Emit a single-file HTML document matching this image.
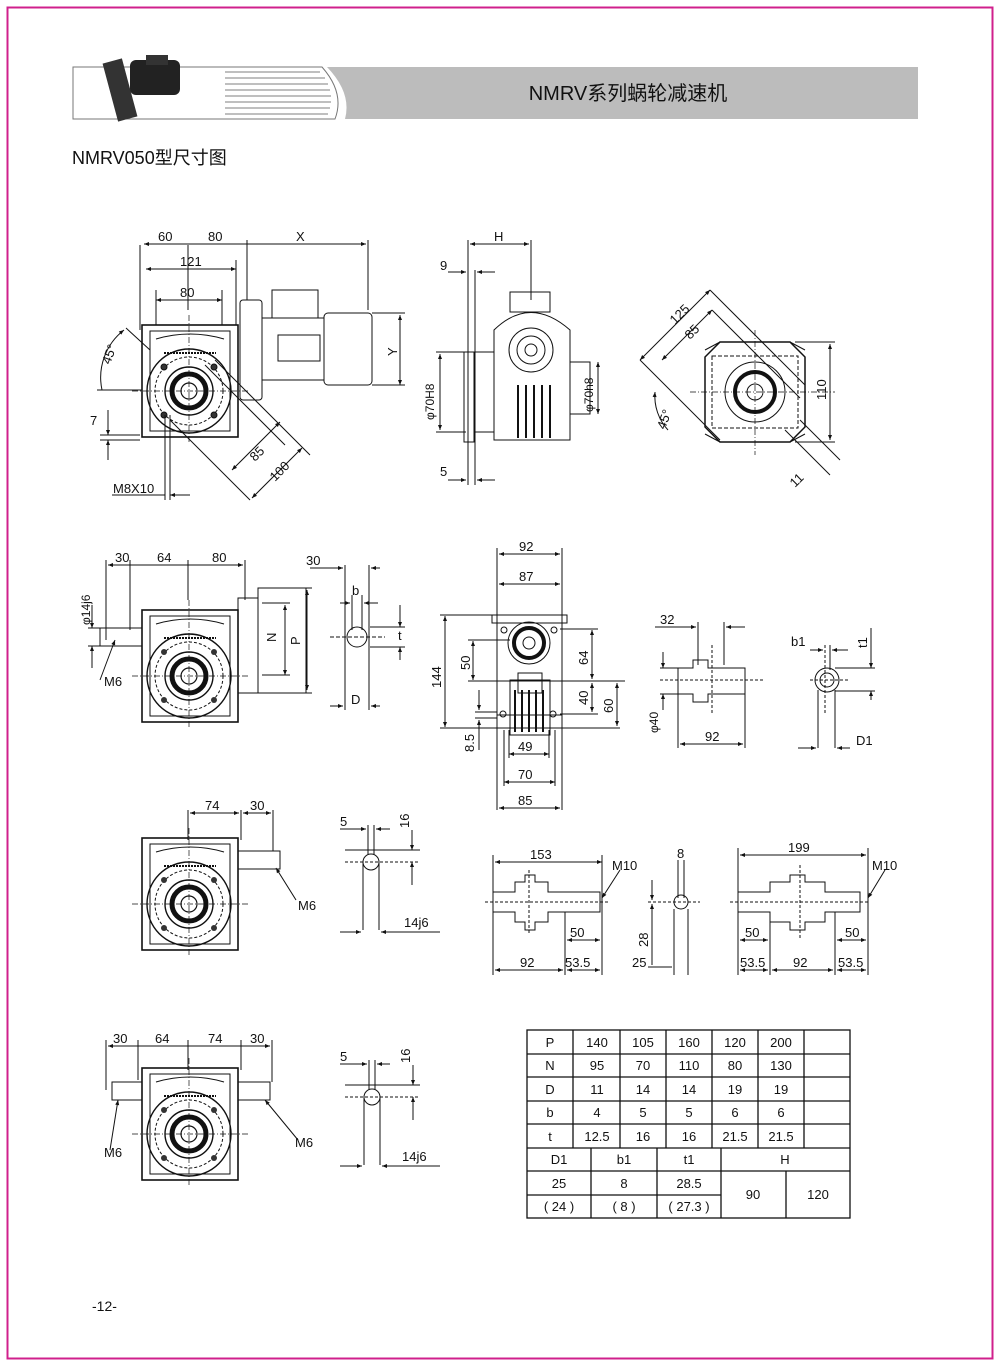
<!DOCTYPE html>
<html><head><meta charset="utf-8"><style>
html,body{margin:0;padding:0;background:#fff;}
svg{display:block;}
text{font-family:"Liberation Sans","Noto Sans CJK SC",sans-serif;fill:#111;}
</style></head><body>
<svg width="1000" height="1366" viewBox="0 0 1000 1366" xmlns="http://www.w3.org/2000/svg">
<defs>
<marker id="a" viewBox="0 0 10 10" refX="10" refY="5" markerWidth="7" markerHeight="5" orient="auto-start-reverse"><path d="M0,1 L10,5 L0,9z" fill="#111"/></marker>
<g id="gb">
 <rect x="0" y="0" width="96" height="112" fill="none" stroke="#111" stroke-width="1.6"/>
 <rect x="8" y="6" width="80" height="100" fill="none" stroke="#111" stroke-width="1"/>
 <path d="M14,14 Q48,4 82,14" fill="none" stroke="#111"/>
 <line x1="22" y1="28" x2="74" y2="28" stroke="#111" stroke-width="2" stroke-dasharray="2 1"/>
 <circle cx="47" cy="66" r="42" fill="none" stroke="#111" stroke-width="1.4"/>
 <circle cx="47" cy="66" r="34" fill="none" stroke="#111" stroke-dasharray="3 2"/>
 <circle cx="47" cy="66" r="24" fill="none" stroke="#111" stroke-width="1.4"/>
 <circle cx="47" cy="66" r="17" fill="none" stroke="#111" stroke-width="5"/>
 <circle cx="47" cy="66" r="8" fill="none" stroke="#111" stroke-width="1.2"/>
 <circle cx="22" cy="42" r="3" fill="#333"/><circle cx="72" cy="42" r="3" fill="#333"/>
 <circle cx="22" cy="90" r="3" fill="#333"/><circle cx="72" cy="90" r="3" fill="#333"/>
 <line x1="47" y1="-10" x2="47" y2="118" stroke="#111" stroke-width=".7" stroke-dasharray="6 2 1 2"/>
 <line x1="-10" y1="66" x2="106" y2="66" stroke="#111" stroke-width=".7" stroke-dasharray="6 2 1 2"/>
</g>
</defs>
<!-- border -->
<rect x="7.5" y="7.5" width="985" height="1351" fill="none" stroke="#d0208c" stroke-width="2"/>
<!-- header -->
<rect x="73" y="67" width="845" height="52" fill="#fff"/>
<path d="M73,67 H322 Q345,93 335,119 H73 Z" fill="#fff" stroke="#777" stroke-width="1"/>
<g stroke="#aaa" stroke-width="1.5">
<line x1="225" y1="72" x2="320" y2="72"/><line x1="225" y1="78" x2="325" y2="78"/><line x1="225" y1="84" x2="328" y2="84"/><line x1="225" y1="90" x2="330" y2="90"/><line x1="225" y1="96" x2="331" y2="96"/><line x1="225" y1="102" x2="331" y2="102"/><line x1="225" y1="108" x2="330" y2="108"/><line x1="225" y1="114" x2="328" y2="114"/>
</g>
<path d="M327,67 H918 V119 H345 Q352,93 327,67 Z" fill="#bcbcbc"/>
<rect x="110" y="60" width="20" height="60" fill="#333" transform="rotate(-15 120 90)"/>
<rect x="130" y="60" width="50" height="35" rx="6" fill="#222"/>
<rect x="146" y="55" width="22" height="10" fill="#333"/>
<text x="628" y="100" font-size="20" text-anchor="middle">NMRV系列蜗轮减速机</text>
<text x="72" y="164" font-size="18">NMRV050型尺寸图</text>

<g stroke="#111" fill="none" stroke-width="1" font-size="13">
<!-- View 1 -->
<use href="#gb" x="142" y="325"/>
<rect x="240" y="300" width="22" height="100" rx="3"/>
<rect x="262" y="318" width="62" height="62"/>
<rect x="272" y="290" width="46" height="28"/>
<rect x="278" y="335" width="42" height="26"/>
<rect x="324" y="313" width="48" height="72" rx="4"/>
<line x1="140" y1="245" x2="140" y2="330"/><line x1="188" y1="245" x2="188" y2="310"/><line x1="247" y1="240" x2="247" y2="300"/><line x1="368" y1="240" x2="368" y2="310"/>
<line x1="144" y1="244" x2="366" y2="244" marker-start="url(#a)" marker-end="url(#a)"/>
<line x1="146" y1="269" x2="236" y2="269" marker-start="url(#a)" marker-end="url(#a)"/>
<line x1="236" y1="260" x2="236" y2="325"/>
<line x1="156" y1="300" x2="222" y2="300" marker-start="url(#a)" marker-end="url(#a)"/>
<line x1="156" y1="290" x2="156" y2="325"/><line x1="222" y1="290" x2="222" y2="325"/>
<line x1="400" y1="315" x2="400" y2="385" marker-start="url(#a)" marker-end="url(#a)"/>
<line x1="372" y1="313" x2="405" y2="313"/><line x1="372" y1="385" x2="405" y2="385"/>
<path d="M124,330 A60,60 0 0 0 102,390" marker-start="url(#a)"/>
<line x1="97" y1="390" x2="142" y2="390"/>
<line x1="126" y1="328" x2="150" y2="350"/>
<line x1="100" y1="435" x2="140" y2="435"/><line x1="100" y1="440" x2="140" y2="440"/>
<line x1="108" y1="410" x2="108" y2="435" marker-end="url(#a)"/><line x1="108" y1="460" x2="108" y2="440" marker-end="url(#a)"/>
<line x1="205" y1="365" x2="285" y2="445"/><line x1="215" y1="360" x2="310" y2="455"/>
<line x1="232" y1="470" x2="280" y2="422" marker-start="url(#a)" marker-end="url(#a)"/>
<line x1="252" y1="498" x2="302" y2="448" marker-start="url(#a)" marker-end="url(#a)"/>
<line x1="170" y1="420" x2="250" y2="500"/>
<line x1="165" y1="415" x2="165" y2="500"/><line x1="170" y1="415" x2="170" y2="500"/>
<line x1="112" y1="495" x2="165" y2="495"/><line x1="170" y1="495" x2="190" y2="495" marker-start="url(#a)"/>
</g>
<g font-size="13">
<text x="158" y="241">60</text><text x="208" y="241">80</text><text x="296" y="241">X</text>
<text x="180" y="266">121</text><text x="180" y="297">80</text>
<text x="397" y="356" transform="rotate(-90 397 356)" x-d="">Y</text>
<text x="110" y="365" transform="rotate(-70 110 365)">45°</text>
<text x="90" y="425">7</text>
<text x="255" y="462" transform="rotate(-45 255 462)">85</text>
<text x="275" y="482" transform="rotate(-45 275 482)">100</text>
<text x="113" y="493">M8X10</text>
</g>

<!-- View 2 side -->
<g stroke="#111" fill="none" stroke-width="1" font-size="13">
<rect x="464" y="352" width="10" height="90"/>
<rect x="474" y="352" width="20" height="80"/>
<path d="M494,330 Q530,295 570,330 V440 H494 Z"/>
<rect x="510" y="292" width="40" height="20"/>
<circle cx="531" cy="350" r="22"/><circle cx="531" cy="350" r="14"/><circle cx="531" cy="350" r="6"/>
<rect x="570" y="362" width="20" height="52"/>
<g stroke-width="2"><line x1="518" y1="385" x2="518" y2="438"/><line x1="526" y1="385" x2="526" y2="438"/><line x1="534" y1="385" x2="534" y2="438"/><line x1="542" y1="385" x2="542" y2="438"/><line x1="550" y1="385" x2="550" y2="438"/></g>
<line x1="531" y1="240" x2="531" y2="300"/><line x1="468" y1="240" x2="468" y2="485"/><line x1="475" y1="270" x2="475" y2="485"/>
<line x1="470" y1="244" x2="529" y2="244" marker-start="url(#a)" marker-end="url(#a)"/>
<line x1="448" y1="272" x2="466" y2="272" marker-end="url(#a)"/><line x1="495" y1="272" x2="477" y2="272" marker-end="url(#a)"/>
<line x1="448" y1="480" x2="466" y2="480" marker-end="url(#a)"/><line x1="495" y1="480" x2="477" y2="480" marker-end="url(#a)"/>
<line x1="440" y1="354" x2="440" y2="430" marker-start="url(#a)" marker-end="url(#a)"/>
<line x1="436" y1="352" x2="466" y2="352"/><line x1="436" y1="432" x2="466" y2="432"/>
<line x1="598" y1="362" x2="598" y2="414" marker-start="url(#a)" marker-end="url(#a)"/>
</g>
<g font-size="12">
<text x="494" y="241" font-size="13">H</text><text x="440" y="270" font-size="13">9</text><text x="440" y="476" font-size="13">5</text>
<text x="434" y="420" transform="rotate(-90 434 420)">φ70H8</text>
<text x="593" y="412" transform="rotate(-90 593 412)">φ70h8</text>
</g>

<!-- View 3 flange -->
<g stroke="#111" fill="none" stroke-width="1" font-size="13">
<path d="M720,342 H790 L805,357 V427 L790,442 H720 L705,427 V357 Z" stroke-width="1.5"/>
<path d="M705,350 L720,342 M790,342 L805,350 M705,434 L720,442 M805,434 L790,442"/>
<rect x="712" y="356" width="86" height="72" stroke-dasharray="4 2"/>
<circle cx="755" cy="392" r="30"/><circle cx="755" cy="392" r="20" stroke-width="4"/><circle cx="755" cy="392" r="8"/>
<line x1="690" y1="392" x2="835" y2="392" stroke-dasharray="6 2 1 2" stroke-width=".7"/>
<line x1="755" y1="330" x2="755" y2="455" stroke-dasharray="6 2 1 2" stroke-width=".7"/>
<line x1="640" y1="360" x2="710" y2="290" marker-start="url(#a)" marker-end="url(#a)"/>
<line x1="662" y1="360" x2="712" y2="310" marker-start="url(#a)" marker-end="url(#a)"/>
<line x1="640" y1="360" x2="720" y2="440"/><line x1="710" y1="290" x2="805" y2="385"/>
<line x1="712" y1="310" x2="800" y2="398"/>
<line x1="830" y1="344" x2="830" y2="440" marker-start="url(#a)" marker-end="url(#a)"/>
<line x1="795" y1="342" x2="835" y2="342"/><line x1="795" y1="442" x2="835" y2="442"/>
<line x1="785" y1="430" x2="830" y2="475"/><line x1="800" y1="420" x2="840" y2="460"/>
<path d="M655,392 A50,50 0 0 0 668,430" marker-start="url(#a)"/>
</g>
<g font-size="13">
<text x="675" y="325" transform="rotate(-45 675 325)">125</text>
<text x="690" y="340" transform="rotate(-45 690 340)">85</text>
<text x="826" y="400" transform="rotate(-90 826 400)">110</text>
<text x="665" y="430" transform="rotate(-70 665 430)">45°</text>
<text x="795" y="488" transform="rotate(-45 795 488)">11</text>
</g>

<!-- Row2 left -->
<use href="#gb" x="142" y="610"/>
<g stroke="#111" fill="none" stroke-width="1" font-size="13">
<rect x="100" y="628" width="42" height="18"/>
<rect x="238" y="598" width="20" height="95"/>
<rect x="258" y="588" width="48" height="105"/>
<line x1="106" y1="560" x2="106" y2="640"/><line x1="130" y1="560" x2="130" y2="630"/><line x1="188" y1="560" x2="188" y2="600"/><line x1="245" y1="560" x2="245" y2="600"/>
<line x1="108" y1="565" x2="243" y2="565" marker-start="url(#a)" marker-end="url(#a)"/>
<line x1="88" y1="628" x2="100" y2="628"/><line x1="88" y1="646" x2="100" y2="646"/>
<line x1="92" y1="605" x2="92" y2="628" marker-end="url(#a)"/><line x1="92" y1="668" x2="92" y2="646" marker-end="url(#a)"/>
<line x1="100" y1="680" x2="115" y2="640" marker-end="url(#a)"/>
<line x1="285" y1="605" x2="285" y2="675" marker-start="url(#a)" marker-end="url(#a)"/>
<line x1="307" y1="590" x2="307" y2="690" marker-start="url(#a)" marker-end="url(#a)"/>
<line x1="262" y1="603" x2="290" y2="603"/><line x1="262" y1="675" x2="290" y2="675"/>
<line x1="262" y1="588" x2="312" y2="588"/><line x1="262" y1="693" x2="312" y2="693"/>
<!-- shaft key -->
<circle cx="357" cy="637" r="10"/>
<line x1="345" y1="565" x2="345" y2="710"/><line x1="369" y1="565" x2="369" y2="710"/>
<line x1="352" y1="595" x2="352" y2="630"/><line x1="362" y1="595" x2="362" y2="630"/>
<line x1="310" y1="568" x2="343" y2="568" marker-end="url(#a)"/><line x1="380" y1="568" x2="371" y2="568" marker-end="url(#a)"/>
<line x1="340" y1="603" x2="350" y2="603" marker-end="url(#a)"/><line x1="378" y1="603" x2="364" y2="603" marker-end="url(#a)"/>
<line x1="330" y1="706" x2="343" y2="706" marker-end="url(#a)"/><line x1="380" y1="706" x2="371" y2="706" marker-end="url(#a)"/>
<line x1="400" y1="605" x2="400" y2="627" marker-end="url(#a)"/><line x1="400" y1="660" x2="400" y2="647" marker-end="url(#a)"/>
<line x1="370" y1="627" x2="405" y2="627"/><line x1="370" y1="647" x2="405" y2="647"/>
<line x1="330" y1="637" x2="385" y2="637" stroke-dasharray="4 2"/>
</g>
<g font-size="13">
<text x="115" y="562">30</text><text x="157" y="562">64</text><text x="212" y="562">80</text>
<text x="90" y="625" transform="rotate(-90 90 625)" font-size="12">φ14j6</text>
<text x="104" y="686">M6</text>
<text x="276" y="642" transform="rotate(-90 276 642)">N</text>
<text x="300" y="645" transform="rotate(-90 300 645)">P</text>
<text x="306" y="565">30</text><text x="352" y="595">b</text><text x="398" y="640">t</text><text x="351" y="704">D</text>
</g>

<!-- Row2 middle front -->
<g stroke="#111" fill="none" stroke-width="1" font-size="13">
<rect x="497" y="615" width="65" height="100"/>
<rect x="492" y="615" width="75" height="8"/>
<circle cx="529" cy="643" r="21"/><circle cx="529" cy="643" r="15" stroke-width="4"/><circle cx="529" cy="643" r="6"/>
<circle cx="504" cy="630" r="3"/><circle cx="554" cy="630" r="3"/>
<rect x="518" y="673" width="24" height="20"/>
<rect x="510" y="680" width="40" height="55"/>
<g stroke-width="2"><line x1="515" y1="690" x2="515" y2="732"/><line x1="522" y1="690" x2="522" y2="732"/><line x1="529" y1="690" x2="529" y2="732"/><line x1="536" y1="690" x2="536" y2="732"/><line x1="543" y1="690" x2="543" y2="732"/></g>
<circle cx="503" cy="714" r="3"/><circle cx="553" cy="714" r="3"/>
<line x1="497" y1="548" x2="497" y2="810"/><line x1="562" y1="548" x2="562" y2="810"/>
<line x1="499" y1="554" x2="560" y2="554" marker-start="url(#a)" marker-end="url(#a)"/>
<line x1="499" y1="584" x2="560" y2="584" marker-start="url(#a)" marker-end="url(#a)"/>
<line x1="445" y1="616" x2="445" y2="727" marker-start="url(#a)" marker-end="url(#a)"/>
<line x1="440" y1="615" x2="497" y2="615"/><line x1="440" y1="728" x2="620" y2="728"/>
<line x1="473" y1="641" x2="473" y2="680" marker-start="url(#a)" marker-end="url(#a)"/>
<line x1="468" y1="640" x2="510" y2="640"/><line x1="468" y1="681" x2="625" y2="681"/>
<line x1="592" y1="630" x2="592" y2="679" marker-start="url(#a)" marker-end="url(#a)"/>
<line x1="592" y1="683" x2="592" y2="712" marker-start="url(#a)" marker-end="url(#a)"/>
<line x1="617" y1="683" x2="617" y2="726" marker-start="url(#a)" marker-end="url(#a)"/>
<line x1="560" y1="629" x2="598" y2="629"/><line x1="560" y1="714" x2="598" y2="714"/>
<line x1="479" y1="690" x2="479" y2="710" marker-end="url(#a)"/><line x1="479" y1="750" x2="479" y2="720" marker-end="url(#a)"/>
<line x1="475" y1="712" x2="497" y2="712"/><line x1="475" y1="718" x2="497" y2="718"/>
<line x1="509" y1="754" x2="549" y2="754" marker-start="url(#a)" marker-end="url(#a)"/>
<line x1="504" y1="782" x2="555" y2="782" marker-start="url(#a)" marker-end="url(#a)"/>
<line x1="499" y1="808" x2="560" y2="808" marker-start="url(#a)" marker-end="url(#a)"/>
<line x1="509" y1="730" x2="509" y2="758"/><line x1="549" y1="730" x2="549" y2="758"/>
<line x1="504" y1="730" x2="504" y2="786"/><line x1="555" y1="730" x2="555" y2="786"/>
<!-- hollow shaft -->
<path d="M678,668 H693 V660 H708 V668 H745 V694 H708 V702 H693 V694 H678 Z"/>
<line x1="660" y1="680" x2="765" y2="680" stroke-dasharray="3 2"/>
<line x1="712" y1="645" x2="712" y2="715" stroke-dasharray="3 2"/>
<line x1="698" y1="622" x2="698" y2="665"/><line x1="724" y1="622" x2="724" y2="665"/>
<line x1="655" y1="627" x2="696" y2="627" marker-end="url(#a)"/><line x1="745" y1="627" x2="726" y2="627" marker-end="url(#a)"/>
<line x1="663" y1="652" x2="663" y2="668" marker-end="url(#a)"/><line x1="663" y1="710" x2="663" y2="694" marker-end="url(#a)"/>
<line x1="660" y1="668" x2="678" y2="668"/><line x1="660" y1="694" x2="678" y2="694"/>
<line x1="680" y1="744" x2="743" y2="744" marker-start="url(#a)" marker-end="url(#a)"/>
<line x1="678" y1="694" x2="678" y2="748"/><line x1="745" y1="694" x2="745" y2="748"/>
<circle cx="827" cy="680" r="12"/><circle cx="827" cy="680" r="7"/>
<line x1="810" y1="680" x2="850" y2="680" stroke-dasharray="3 2"/>
<line x1="818" y1="690" x2="818" y2="748"/><line x1="835" y1="690" x2="835" y2="748"/>
<line x1="825" y1="645" x2="825" y2="715" stroke-dasharray="3 2"/><line x1="830" y1="645" x2="830" y2="670"/>
<line x1="798" y1="748" x2="816" y2="748" marker-end="url(#a)"/><line x1="850" y1="748" x2="837" y2="748" marker-end="url(#a)"/>
<line x1="810" y1="650" x2="823" y2="650" marker-end="url(#a)"/><line x1="848" y1="650" x2="832" y2="650" marker-end="url(#a)"/>
<line x1="871" y1="628" x2="871" y2="668" marker-end="url(#a)"/><line x1="871" y1="700" x2="871" y2="691" marker-end="url(#a)"/>
<line x1="835" y1="668" x2="875" y2="668"/><line x1="835" y1="691" x2="875" y2="691"/>
</g>
<g font-size="13">
<text x="519" y="551">92</text><text x="519" y="581">87</text>
<text x="441" y="688" transform="rotate(-90 441 688)">144</text>
<text x="470" y="670" transform="rotate(-90 470 670)">50</text>
<text x="588" y="665" transform="rotate(-90 588 665)">64</text>
<text x="588" y="705" transform="rotate(-90 588 705)">40</text>
<text x="613" y="713" transform="rotate(-90 613 713)">60</text>
<text x="474" y="752" transform="rotate(-90 474 752)">8.5</text>
<text x="518" y="751">49</text><text x="518" y="779">70</text><text x="518" y="805">85</text>
<text x="660" y="624">32</text>
<text x="658" y="733" transform="rotate(-90 658 733)" font-size="12">φ40</text>
<text x="705" y="741">92</text>
<text x="791" y="646">b1</text>
<text x="867" y="648" transform="rotate(-90 867 648)">t1</text>
<text x="856" y="745">D1</text>
</g>

<!-- Row3 -->
<use href="#gb" x="142" y="838"/>
<g stroke="#111" fill="none" stroke-width="1" font-size="13">
<rect x="238" y="851" width="42" height="18"/>
<line x1="188" y1="810" x2="188" y2="840"/><line x1="241" y1="810" x2="241" y2="840"/><line x1="273" y1="810" x2="273" y2="851"/>
<line x1="190" y1="813" x2="239" y2="813" marker-start="url(#a)" marker-end="url(#a)"/>
<line x1="243" y1="813" x2="271" y2="813" marker-start="url(#a)" marker-end="url(#a)"/>
<line x1="296" y1="900" x2="276" y2="868" marker-end="url(#a)"/>
<circle cx="371" cy="862" r="8"/>
<line x1="363" y1="862" x2="363" y2="930"/><line x1="379" y1="862" x2="379" y2="930"/>
<line x1="368" y1="825" x2="368" y2="855"/><line x1="374" y1="825" x2="374" y2="855"/>
<line x1="340" y1="829" x2="366" y2="829" marker-end="url(#a)"/><line x1="390" y1="829" x2="376" y2="829" marker-end="url(#a)"/>
<line x1="345" y1="850" x2="420" y2="850"/><line x1="345" y1="862" x2="420" y2="862" stroke-dasharray="3 2"/>
<line x1="412" y1="830" x2="412" y2="850" marker-end="url(#a)"/><line x1="412" y1="885" x2="412" y2="862" marker-end="url(#a)"/>
<line x1="340" y1="932" x2="361" y2="932" marker-end="url(#a)"/><line x1="440" y1="932" x2="381" y2="932" marker-end="url(#a)"/>
<!-- 153 -->
<path d="M493,892 H515 V882 H525 V875 H535 V882 H548 V892 H600 V912 H548 V922 H535 V930 H525 V922 H515 V912 H493 Z"/>
<line x1="485" y1="902" x2="610" y2="902" stroke-dasharray="3 2"/>
<line x1="529" y1="870" x2="529" y2="935" stroke-dasharray="3 2"/>
<line x1="495" y1="862" x2="602" y2="862" marker-start="url(#a)" marker-end="url(#a)"/>
<line x1="493" y1="855" x2="493" y2="975"/><line x1="602" y1="855" x2="602" y2="975"/>
<line x1="565" y1="912" x2="565" y2="975"/>
<line x1="567" y1="940" x2="600" y2="940" marker-start="url(#a)" marker-end="url(#a)"/>
<line x1="495" y1="970" x2="563" y2="970" marker-start="url(#a)" marker-end="url(#a)"/>
<line x1="567" y1="970" x2="600" y2="970" marker-start="url(#a)" marker-end="url(#a)"/>
<line x1="620" y1="870" x2="602" y2="898" marker-end="url(#a)"/>
<!-- small shaft 8 -->
<circle cx="681" cy="902" r="7"/>
<line x1="678" y1="860" x2="678" y2="898"/><line x1="684" y1="860" x2="684" y2="898"/>
<line x1="674" y1="909" x2="674" y2="975"/><line x1="688" y1="909" x2="688" y2="975"/>
<line x1="648" y1="902" x2="700" y2="902" stroke-dasharray="3 2"/>
<line x1="652" y1="880" x2="652" y2="900" marker-end="url(#a)"/><line x1="652" y1="965" x2="652" y2="904" marker-end="url(#a)"/>
<line x1="648" y1="967" x2="672" y2="967"/>
<!-- 199 -->
<path d="M738,892 H770 V882 H790 V875 H805 V882 H825 V892 H860 V912 H825 V922 H805 V930 H790 V922 H770 V912 H738 Z"/>
<line x1="730" y1="902" x2="870" y2="902" stroke-dasharray="3 2"/>
<line x1="800" y1="865" x2="800" y2="940" stroke-dasharray="3 2"/>
<line x1="740" y1="855" x2="866" y2="855" marker-start="url(#a)" marker-end="url(#a)"/>
<line x1="738" y1="848" x2="738" y2="975"/><line x1="868" y1="848" x2="868" y2="975"/>
<line x1="770" y1="912" x2="770" y2="975"/><line x1="835" y1="912" x2="835" y2="975"/>
<line x1="740" y1="940" x2="768" y2="940" marker-start="url(#a)" marker-end="url(#a)"/>
<line x1="837" y1="940" x2="866" y2="940" marker-start="url(#a)" marker-end="url(#a)"/>
<line x1="740" y1="970" x2="768" y2="970" marker-start="url(#a)" marker-end="url(#a)"/>
<line x1="772" y1="970" x2="833" y2="970" marker-start="url(#a)" marker-end="url(#a)"/>
<line x1="837" y1="970" x2="866" y2="970" marker-start="url(#a)" marker-end="url(#a)"/>
<line x1="885" y1="870" x2="868" y2="898" marker-end="url(#a)"/>
</g>
<g font-size="13">
<text x="205" y="810">74</text><text x="250" y="810">30</text>
<text x="298" y="910">M6</text>
<text x="340" y="826">5</text>
<text x="409" y="828" transform="rotate(-90 409 828)">16</text>
<text x="404" y="927">14j6</text>
<text x="530" y="859">153</text><text x="612" y="870">M10</text>
<text x="570" y="937">50</text><text x="520" y="967">92</text><text x="565" y="967">53.5</text>
<text x="677" y="858">8</text>
<text x="648" y="947" transform="rotate(-90 648 947)">28</text>
<text x="632" y="967">25</text>
<text x="788" y="852">199</text><text x="872" y="870">M10</text>
<text x="745" y="937">50</text><text x="845" y="937">50</text>
<text x="740" y="967">53.5</text><text x="793" y="967">92</text><text x="838" y="967">53.5</text>
</g>

<!-- Row4 -->
<use href="#gb" x="142" y="1068"/>
<g stroke="#111" fill="none" stroke-width="1" font-size="13">
<rect x="112" y="1082" width="30" height="18"/><rect x="238" y="1082" width="32" height="18"/>
<line x1="106" y1="1040" x2="106" y2="1090"/><line x1="138" y1="1040" x2="138" y2="1080"/><line x1="188" y1="1040" x2="188" y2="1070"/><line x1="241" y1="1040" x2="241" y2="1070"/><line x1="272" y1="1040" x2="272" y2="1082"/>
<line x1="108" y1="1046" x2="270" y2="1046" marker-start="url(#a)" marker-end="url(#a)"/>
<line x1="110" y1="1150" x2="118" y2="1100" marker-end="url(#a)"/>
<line x1="298" y1="1140" x2="265" y2="1100" marker-end="url(#a)"/>
<circle cx="372" cy="1097" r="8"/>
<line x1="364" y1="1097" x2="364" y2="1165"/><line x1="380" y1="1097" x2="380" y2="1165"/>
<line x1="369" y1="1060" x2="369" y2="1090"/><line x1="375" y1="1060" x2="375" y2="1090"/>
<line x1="340" y1="1064" x2="367" y2="1064" marker-end="url(#a)"/><line x1="390" y1="1064" x2="377" y2="1064" marker-end="url(#a)"/>
<line x1="345" y1="1085" x2="420" y2="1085"/><line x1="345" y1="1097" x2="420" y2="1097" stroke-dasharray="3 2"/>
<line x1="413" y1="1065" x2="413" y2="1085" marker-end="url(#a)"/><line x1="413" y1="1120" x2="413" y2="1097" marker-end="url(#a)"/>
<line x1="340" y1="1166" x2="362" y2="1166" marker-end="url(#a)"/><line x1="440" y1="1166" x2="382" y2="1166" marker-end="url(#a)"/>
</g>
<g font-size="13">
<text x="113" y="1043">30</text><text x="155" y="1043">64</text><text x="208" y="1043">74</text><text x="250" y="1043">30</text>
<text x="104" y="1157">M6</text><text x="295" y="1147">M6</text>
<text x="340" y="1061">5</text>
<text x="410" y="1063" transform="rotate(-90 410 1063)">16</text>
<text x="402" y="1161">14j6</text>
</g>

<!-- Table -->
<g stroke="#111" stroke-width="1.3" fill="none">
<rect x="527" y="1030" width="323" height="188"/>
<line x1="527" y1="1054" x2="850" y2="1054"/><line x1="527" y1="1077" x2="850" y2="1077"/><line x1="527" y1="1101" x2="850" y2="1101"/><line x1="527" y1="1124" x2="850" y2="1124"/><line x1="527" y1="1148" x2="850" y2="1148"/><line x1="527" y1="1171" x2="721" y2="1171"/><line x1="527" y1="1195" x2="721" y2="1195"/><line x1="721" y1="1171" x2="850" y2="1171"/>
<line x1="573" y1="1030" x2="573" y2="1148"/><line x1="620" y1="1030" x2="620" y2="1148"/><line x1="666" y1="1030" x2="666" y2="1148"/><line x1="712" y1="1030" x2="712" y2="1148"/><line x1="758" y1="1030" x2="758" y2="1148"/><line x1="804" y1="1030" x2="804" y2="1148"/>
<line x1="591" y1="1148" x2="591" y2="1218"/><line x1="657" y1="1148" x2="657" y2="1218"/><line x1="721" y1="1148" x2="721" y2="1218"/><line x1="786" y1="1171" x2="786" y2="1218"/>
</g>
<g font-size="13" text-anchor="middle">
<text x="550" y="1047">P</text><text x="597" y="1047">140</text><text x="643" y="1047">105</text><text x="689" y="1047">160</text><text x="735" y="1047">120</text><text x="781" y="1047">200</text>
<text x="550" y="1070">N</text><text x="597" y="1070">95</text><text x="643" y="1070">70</text><text x="689" y="1070">110</text><text x="735" y="1070">80</text><text x="781" y="1070">130</text>
<text x="550" y="1094">D</text><text x="597" y="1094">11</text><text x="643" y="1094">14</text><text x="689" y="1094">14</text><text x="735" y="1094">19</text><text x="781" y="1094">19</text>
<text x="550" y="1117">b</text><text x="597" y="1117">4</text><text x="643" y="1117">5</text><text x="689" y="1117">5</text><text x="735" y="1117">6</text><text x="781" y="1117">6</text>
<text x="550" y="1141">t</text><text x="597" y="1141">12.5</text><text x="643" y="1141">16</text><text x="689" y="1141">16</text><text x="735" y="1141">21.5</text><text x="781" y="1141">21.5</text>
<text x="559" y="1164">D1</text><text x="624" y="1164">b1</text><text x="689" y="1164">t1</text><text x="785" y="1164">H</text>
<text x="559" y="1188">25</text><text x="624" y="1188">8</text><text x="689" y="1188">28.5</text>
<text x="559" y="1211">( 24 )</text><text x="624" y="1211">( 8 )</text><text x="689" y="1211">( 27.3 )</text>
<text x="753" y="1199">90</text><text x="818" y="1199">120</text>
</g>

<text x="92" y="1311" font-size="14">-12-</text>
</svg>
</body></html>
